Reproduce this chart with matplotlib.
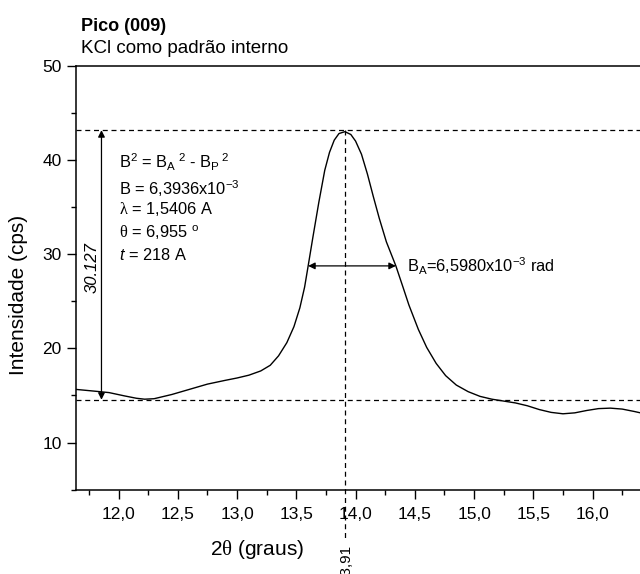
import matplotlib
matplotlib.use('Agg')
import matplotlib.pyplot as plt
from matplotlib.ticker import MultipleLocator, FuncFormatter

plt.rcParams['font.family'] = ['Liberation Sans', 'DejaVu Sans']
plt.rcParams['mathtext.fontset'] = 'custom'
plt.rcParams['mathtext.rm'] = 'Liberation Sans'
plt.rcParams['mathtext.it'] = 'Liberation Sans:italic'
plt.rcParams['mathtext.sf'] = 'Liberation Serif'

# diffractogram, peak (009)
two_theta = [11.64, 11.80, 11.92, 12.05, 12.15, 12.22, 12.30, 12.45, 12.60, 12.75,
             12.90, 13.00, 13.10, 13.20, 13.28, 13.35, 13.42, 13.48, 13.53, 13.57,
             13.60, 13.64, 13.69, 13.74, 13.78, 13.82, 13.86, 13.91, 13.96, 14.00,
             14.05, 14.10, 14.15, 14.20, 14.26, 14.34, 14.40, 14.45, 14.53, 14.60,
             14.68, 14.76, 14.85, 14.95, 15.05, 15.15, 15.25, 15.35, 15.45, 15.55,
             15.65, 15.75, 15.85, 15.95, 16.05, 16.15, 16.25, 16.35, 16.40]
intensity = [15.64, 15.45, 15.30, 14.95, 14.70, 14.60, 14.65, 15.10, 15.65, 16.20,
             16.60, 16.85, 17.15, 17.60, 18.20, 19.20, 20.60, 22.30, 24.30, 26.50,
             28.75, 31.80, 35.50, 38.90, 40.80, 42.10, 42.80, 43.00, 42.70, 42.00,
             40.60, 38.50, 36.10, 33.80, 31.30, 28.75, 26.50, 24.60, 22.00, 20.10,
             18.40, 17.10, 16.10, 15.40, 14.90, 14.60, 14.40, 14.20, 13.90, 13.50,
             13.20, 13.05, 13.15, 13.40, 13.60, 13.65, 13.55, 13.30, 13.16]

peak_x = 13.914
peak_y = 43.16
base_y = 14.54
half_y = 28.75
fwhm_left = 13.60
fwhm_right = 14.34
height_label = '30.127'

fig = plt.figure(figsize=(6.4, 5.74), dpi=100)
ax = fig.add_axes([0.118, 0.147, 0.882, 0.7385])

ax.plot(two_theta, intensity, color='black', lw=1.0)

ax.set_xlim(11.637, 16.40)
ax.set_ylim(5, 50)
ax.xaxis.set_major_locator(MultipleLocator(0.5))
ax.xaxis.set_minor_locator(MultipleLocator(0.25))
ax.yaxis.set_major_locator(MultipleLocator(10))
ax.yaxis.set_minor_locator(MultipleLocator(5))
ax.xaxis.set_major_formatter(FuncFormatter(lambda v, p: ('%.1f' % v).replace('.', ',')))
ax.yaxis.set_major_formatter(FuncFormatter(lambda v, p: '' if v < 10 else '%d' % v))
ax.tick_params(which='major', direction='out', length=6.5, width=1, labelsize=12.5)
ax.tick_params(axis='x', which='major', pad=6)
ax.tick_params(which='minor', direction='out', length=3.6, width=1)
ax.spines['right'].set_visible(False)
for s in ['left', 'bottom', 'top']:
    ax.spines[s].set_linewidth(1.1)

ax.set_xlabel(r'2$\mathsf{\theta}$ (graus)', fontsize=15)
ax.xaxis.set_label_coords(0.321, -0.115)
ax.set_ylabel('Intensidade (cps)', fontsize=15)
ax.yaxis.set_label_coords(-0.085, 0.46)

# reference lines
ax.axhline(peak_y, color='black', ls=(0, (4, 3)), lw=0.9)
ax.axhline(base_y, color='black', ls=(0, (4, 3)), lw=0.9)
ax.plot([peak_x, peak_x], [peak_y, -0.3], color='black', ls=(0, (4, 3)), lw=0.9,
        clip_on=False)
ax.text(peak_x, -0.75, '13,91', rotation=90, ha='center', va='top', fontsize=11)

# height arrow
ax.annotate('', xy=(11.856, peak_y), xytext=(11.856, base_y),
            arrowprops=dict(arrowstyle='<|-|>', color='black', lw=0.9,
                            mutation_scale=10, shrinkA=0, shrinkB=0))
ax.text(11.78, 28.6, height_label, rotation=90, ha='center', va='center',
        fontsize=12, style='italic')

# FWHM arrow
ax.annotate('', xy=(fwhm_left, half_y), xytext=(fwhm_right, half_y),
            arrowprops=dict(arrowstyle='<|-|>', color='black', lw=0.9,
                            mutation_scale=10, shrinkA=0, shrinkB=0))
ax.text(14.43, half_y, r'B$_\mathregular{A}$=6,5980x10$^\mathregular{-3}$ rad',
        ha='left', va='center', fontsize=11.8)

lines = [r'B$^\mathregular{2}$ = B$_\mathregular{A}$$^\mathregular{\ 2}$ - B$_\mathregular{P}$$^\mathregular{\ 2}$',
         r'B = 6,3936x10$^\mathregular{-3}$',
         r'$\mathsf{\lambda}$ = 1,5406 A',
         r'$\mathsf{\theta}$ = 6,955 $^\mathregular{o}$',
         r'$t$ = 218 A']
ys = [39.8, 37.0, 34.8, 32.3, 29.9]
for txt, yy in zip(lines, ys):
    ax.text(12.005, yy, txt, ha='left', va='center', fontsize=11.8)

fig.text(0.126, 0.946, 'Pico (009)', fontsize=13, fontweight='bold', ha='left',
         va='baseline')
fig.text(0.126, 0.908, 'KCl como padrão interno', fontsize=13.5, ha='left',
         va='baseline')

fig.savefig('out.png', dpi=100)
